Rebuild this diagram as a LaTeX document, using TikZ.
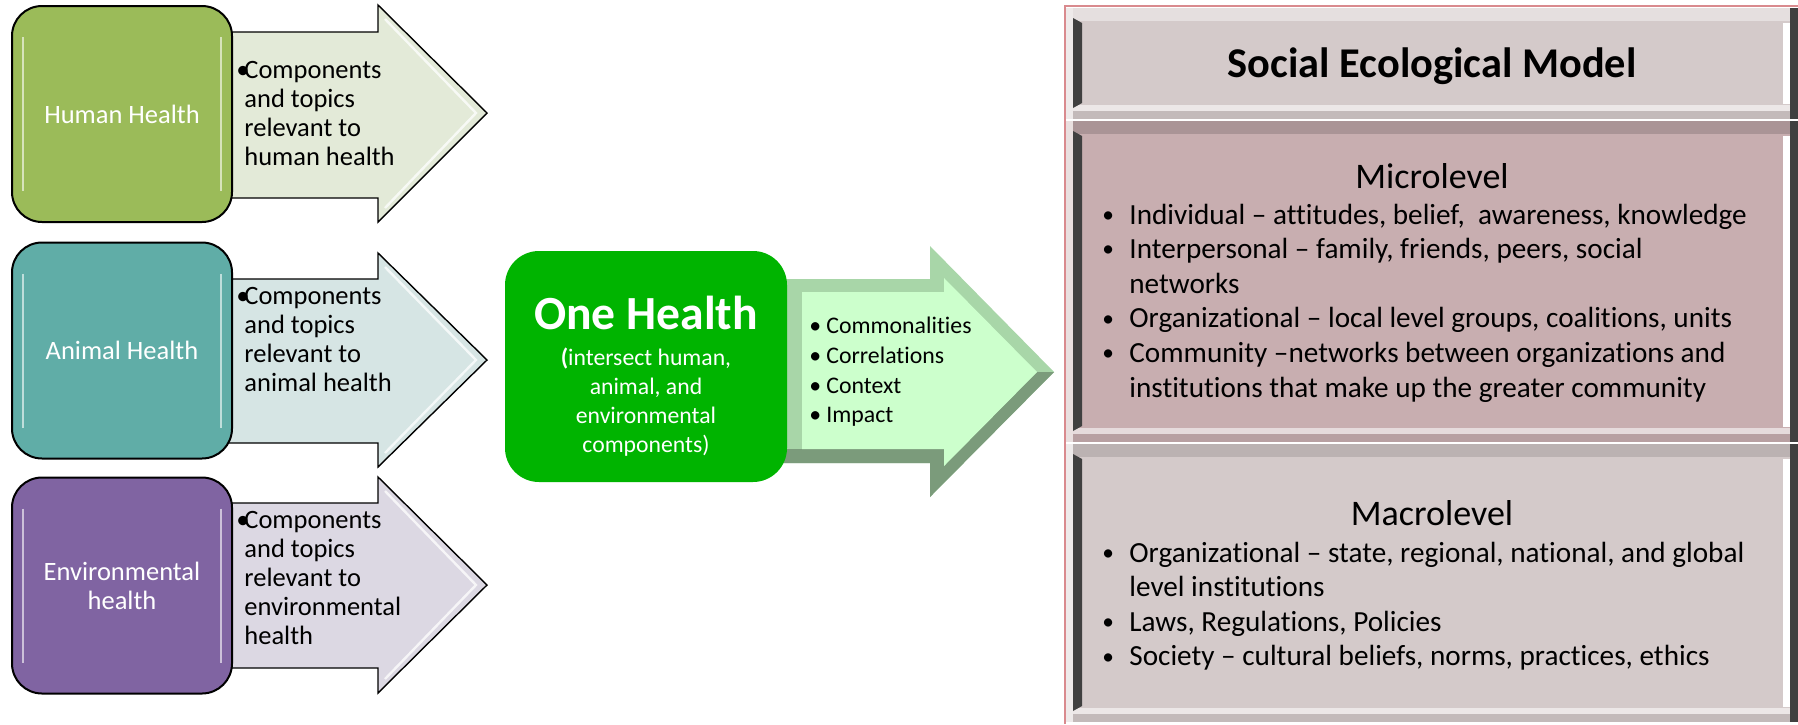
\documentclass[tikz,border=0pt]{standalone}
\usepackage{fontspec}
\usepackage{graphicx}
\setmainfont{Carlito}[Ligatures=NoCommon]
\definecolor{humanfill}{HTML}{9BBB59}
\definecolor{humanarrow}{HTML}{E3EAD8}
\definecolor{animalfill}{HTML}{60ADA7}
\definecolor{animalarrow}{HTML}{D6E5E4}
\definecolor{envfill}{HTML}{8064A2}
\definecolor{envarrow}{HTML}{DCD8E3}
\definecolor{onefill}{HTML}{00B400}
\definecolor{onearrow}{HTML}{CCFFCC}
\definecolor{onemid}{HTML}{A8D6A8}
\definecolor{onedark}{HTML}{7B9B7B}
\definecolor{semlight}{HTML}{D4CACA}
\definecolor{semmicro}{HTML}{C8AEB0}
\definecolor{semred}{HTML}{D98A8E}
\definecolor{semdark}{HTML}{404040}
\newcommand{\sembullet}{\raisebox{0.06em}{\scalebox{0.8}{•}}}
\tikzset{
  healthbox/.style={draw=black, line width=1pt, rounded corners=15pt, minimum width=110pt, minimum height=108pt, inner sep=0pt, text=white, align=center, font=\fontsize{13.25}{14.5}\selectfont},
  sidearrow/.style={draw=black, line width=0.7pt, line join=miter},
  sidetext/.style={anchor=west, inner sep=0pt, font=\fontsize{13.25}{14.5}\selectfont},
  onebox/.style={fill=onefill, rounded corners=17pt, minimum width=141pt, minimum height=115.5pt, inner sep=0pt},
  semlist/.style={anchor=west, inner sep=0pt, font=\fontsize{14.6}{17.3}\selectfont},
  semhead/.style={inner sep=0pt, font=\fontsize{18}{21}\selectfont}
}
\begin{document}
\begin{tikzpicture}[x=0.5pt, y=-0.5pt]
\useasboundingbox (0,0) rectangle (1798,724);
\fill[white] (0,0) rectangle (1798,724);
% Side arrows
\foreach \bt/\bb/\ht/\tp/\hb/\col in {32/198/5/113/222/humanarrow, 279/443/253/360/467/animalarrow, 503/668/477/585/693/envarrow}{
  \fill[\col, sidearrow] (200,\bt) -- (378,\bt) -- (378,\ht) -- (487,\tp) -- (378,\hb) -- (378,\bb) -- (200,\bb) -- cycle;
  \draw[white, line width=1.2pt, opacity=.75] (385,{\ht+14}) -- (476,\tp) -- (385,{\hb-14});
}
% Health boxes
\node[healthbox, fill=humanfill] (human) at (122,114) {Human Health};
\node[healthbox, fill=animalfill] (animal) at (122,350.5) {Animal Health};
\node[healthbox, fill=envfill] (env) at (122,585.5) {Environmental\\health};
\foreach \n in {human, animal, env}{
  \draw[white, line width=0.8pt, opacity=.6] ([xshift=6pt,yshift=-16pt]\n.north west) -- ([xshift=6pt,yshift=16pt]\n.south west);
  \draw[white, line width=0.8pt, opacity=.6] ([xshift=-6pt,yshift=-16pt]\n.north east) -- ([xshift=-6pt,yshift=16pt]\n.south east);
}
\node[sidetext] (humantext) at (236,115.7) {\begin{tabular}{@{}p{4pt}@{}l@{}}•&Components\\&and topics\\&relevant to\\&human health\end{tabular}};
\node[sidetext] (animaltext) at (236,341.7) {\begin{tabular}{@{}p{4pt}@{}l@{}}•&Components\\&and topics\\&relevant to\\&animal health\end{tabular}};
\node[sidetext] (envtext) at (236,580.7) {\begin{tabular}{@{}p{4pt}@{}l@{}}•&Components\\&and topics\\&relevant to\\&environmental\\&health\end{tabular}};
% One Health arrow
\fill[onemid] (770,279) -- (930,279) -- (930,246) -- (1054,372) -- (930,497) -- (930,463) -- (770,463) -- cycle;
\fill[onedark] (770,463) -- (930,463) -- (930,497) -- (1054,372) -- (1037,372) -- (944,466) -- (944,449) -- (770,449) -- cycle;
\fill[onearrow] (802,292) -- (944,292) -- (944,278) -- (1037,372) -- (944,466) -- (944,449) -- (802,449) -- cycle;
% One Health box
\node[onebox] (one) at (646,366.5) {};
\node[text=white, inner sep=0pt, font=\bfseries\fontsize{23.8}{28}\selectfont] (onetitle) at (646,313) {One Health};
\node[text=white, inner sep=0pt, align=center, font=\fontsize{11.85}{14.4}\selectfont] (onesub) at (646,402) {\textbf{(}intersect human,\\animal, and\\environmental\\components)};
\node[anchor=west, inner sep=0pt, font=\fontsize{11.9}{14.85}\selectfont] (onelist) at (809,372.5) {\begin{tabular}{@{}p{8.5pt}@{}l@{}}•&Commonalities\\•&Correlations\\•&Context\\•&Impact\end{tabular}};
% Social Ecological Model
\foreach \ya/\yb/\col/\top in {8/119/semlight/semlight!60!white, 121/442/semmicro/semmicro!85!black, 444/722/semlight/semlight!88!black}{
  \fill[\col] (1066,\ya) rectangle (1798,\yb);
  \fill[\top] (1066,\ya) rectangle (1798,{\ya+13});
  \fill[\col!45!white] (1066,{\yb-14}) rectangle (1798,{\yb-8});
  \fill[\col!92!black] (1066,{\yb-8}) rectangle (1798,\yb);
  \fill[\col!40!white] (1066,\ya) rectangle (1073,\yb);
  \fill[semdark] (1073,{\ya+10}) -- (1082,{\ya+15}) -- (1082,{\yb-16}) -- (1073,{\yb-11}) -- cycle;
  \fill[white] (1783,{\ya+15}) rectangle (1790,{\yb-15});
  \fill[semdark] (1790,\ya) rectangle (1798,\yb);
}
\draw[semred, line width=0.6pt] (1065,724) -- (1065,6) -- (1798,6);
\node[inner sep=0pt, font=\bfseries\fontsize{21.2}{25}\selectfont] (semtitle) at (1432,66) {Social Ecological Model};
\node[semhead] (microhead) at (1432,176) {Microlevel};
\node[semlist] (microlist) at (1102,303.6) {\begin{tabular}{@{}p{13.5pt}@{}l@{}}
\sembullet&Individual – attitudes, belief,~ awareness, knowledge\\
\sembullet&Interpersonal – family, friends, peers, social\\
&networks\\
\sembullet&Organizational – local level groups, coalitions, units\\
\sembullet&Community –networks between organizations and\\
&institutions that make up the greater community
\end{tabular}};
\node[semhead] (macrohead) at (1432,513) {Macrolevel};
\node[semlist] (macrolist) at (1102,607) {\begin{tabular}{@{}p{13.5pt}@{}l@{}}
\sembullet&Organizational – state, regional, national, and global\\
&level institutions\\
\sembullet&Laws, Regulations, Policies\\
\sembullet&Society – cultural beliefs, norms, practices, ethics
\end{tabular}};
\end{tikzpicture}
\end{document}
